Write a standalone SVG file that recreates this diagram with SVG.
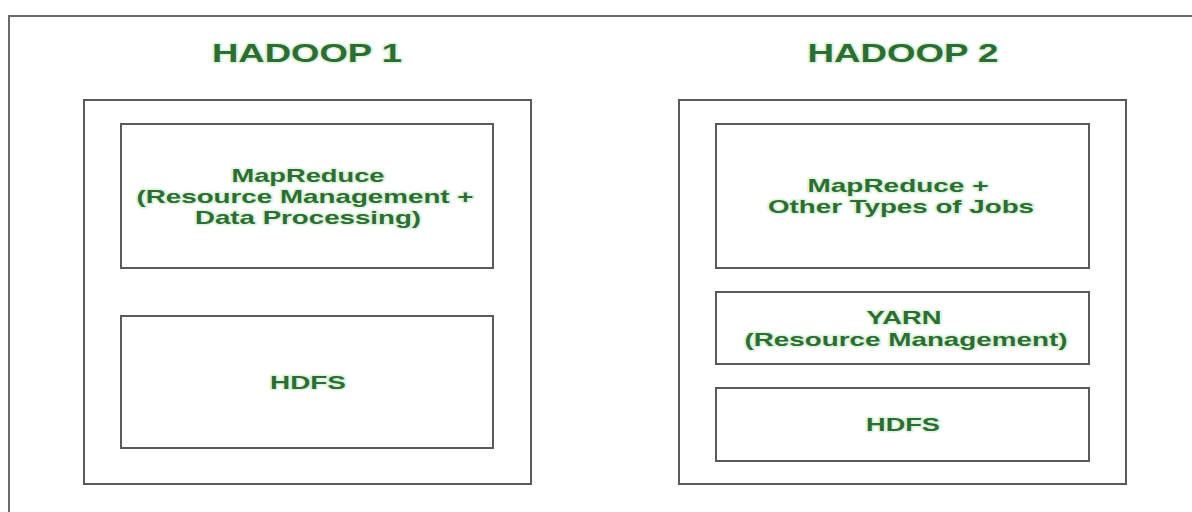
<svg xmlns="http://www.w3.org/2000/svg" width="1192" height="512" viewBox="0 0 1192 512">
<style>
.box{fill:#ffffff;stroke:#5a5a5a;stroke-width:2}
.frame{fill:none;stroke:#6a6a6a;stroke-width:2}
.t{font-family:"Liberation Sans",Arial,sans-serif;font-weight:bold;fill:#2c6e31;text-anchor:middle;stroke:#dff3df;stroke-width:3;paint-order:stroke;stroke-linejoin:round}
.h{font-size:25px}
.b{font-size:18.5px}
</style>
<rect width="1192" height="512" fill="#ffffff"/>
<path class="frame" d="M9 512 V16 H1192"/>
<g id="hadoop1">
<text class="t h" x="307" y="62" textLength="190" lengthAdjust="spacingAndGlyphs">HADOOP 1</text>
<rect class="box" x="84" y="100" width="447" height="384"/>
<g id="h1-mapreduce">
<rect class="box" x="121" y="124" width="372" height="144"/>
<text class="t b" x="308" y="182" textLength="153" lengthAdjust="spacingAndGlyphs">MapReduce</text>
<text class="t b" x="305" y="203" textLength="337" lengthAdjust="spacingAndGlyphs">(Resource Management +</text>
<text class="t b" x="308" y="224" textLength="226" lengthAdjust="spacingAndGlyphs">Data Processing)</text>
</g>
<g id="h1-hdfs">
<rect class="box" x="121" y="316" width="372" height="132"/>
<text class="t b" x="308" y="389" textLength="76" lengthAdjust="spacingAndGlyphs">HDFS</text>
</g>
</g>
<g id="hadoop2">
<text class="t h" x="903" y="62" textLength="191" lengthAdjust="spacingAndGlyphs">HADOOP 2</text>
<rect class="box" x="679" y="100" width="447" height="384"/>
<g id="h2-mapreduce">
<rect class="box" x="716" y="124" width="373" height="144"/>
<text class="t b" x="898" y="192" textLength="181" lengthAdjust="spacingAndGlyphs">MapReduce +</text>
<text class="t b" x="901" y="213" textLength="266" lengthAdjust="spacingAndGlyphs">Other Types of Jobs</text>
</g>
<g id="h2-yarn">
<rect class="box" x="716" y="292" width="373" height="72"/>
<text class="t b" x="904" y="324" textLength="75" lengthAdjust="spacingAndGlyphs">YARN</text>
<text class="t b" x="906" y="346" textLength="323" lengthAdjust="spacingAndGlyphs">(Resource Management)</text>
</g>
<g id="h2-hdfs">
<rect class="box" x="716" y="388" width="373" height="73"/>
<text class="t b" x="903" y="431" textLength="74" lengthAdjust="spacingAndGlyphs">HDFS</text>
</g>
</g>
<g id="connectors"></g>
</svg>
